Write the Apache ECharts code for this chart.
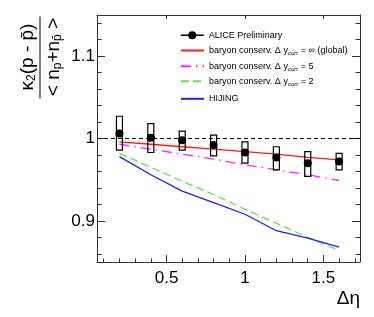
<!DOCTYPE html>
<html>
<head>
<meta charset="utf-8">
<script src="https://cdn.jsdelivr.net/npm/echarts@6/dist/echarts.min.js"></script>
<style>html,body{margin:0;padding:0;background:#fff}#c{width:374px;height:317px}</style>
</head>
<body>
<div id="c"></div>
<script>
const xVals = [0.2, 0.4, 0.6, 0.8, 1.0, 1.2, 1.4, 1.6];
const aliceY = [1.006, 1.001, 0.998, 0.992, 0.983, 0.977, 0.970, 0.972];
const sysLow = [0.986, 0.983, 0.986, 0.979, 0.970, 0.962, 0.954, 0.962];
const sysHigh = [1.027, 1.018, 1.009, 1.004, 0.996, 0.990, 0.984, 0.982];
const globalY = [0.996, 0.993, 0.990, 0.987, 0.984, 0.981, 0.977, 0.974];
const corr5Y = [0.993, 0.987, 0.981, 0.975, 0.968, 0.962, 0.956, 0.949];
const corr2Y = [0.982, 0.965, 0.948, 0.932, 0.914, 0.897, 0.880, 0.864];
const hijingY = [0.978, 0.956, 0.936, 0.922, 0.908, 0.888, 0.879, 0.868];
const xMajor = [0.5, 1, 1.5];
const xMinor = [0.1, 0.2, 0.3, 0.4, 0.6, 0.7, 0.8, 0.9, 1.1, 1.2, 1.3, 1.4, 1.6, 1.7];
const yMajor = [0.9, 1, 1.1];
const yMinor = [0.86, 0.88, 0.92, 0.94, 0.96, 0.98, 1.02, 1.04, 1.06, 1.08, 1.12, 1.14];
const xRange = [0.057, 1.733];
const yRange = [0.85, 1.15];
const refLevel = 1;
const seriesNames = ['ALICE Preliminary', 'global', 'corr5', 'corr2', 'HIJING'];
const legendLabels = [
  'ALICE Preliminary',
  'baryon conserv. \u0394 y{sub|corr} = \u221e (global)',
  'baryon conserv. \u0394 y{sub|corr} = 5',
  'baryon conserv. \u0394 y{sub|corr} = 2',
  'HIJING'
];

const FONT = 'Liberation Sans';
const AX = '#333';
const pairs = ys => xVals.map((x, i) => [x, ys[i]]);

function xAx(pos, ticks, len, showLine, labels) {
  return {
    type: 'value', position: pos, min: xRange[0], max: xRange[1],
    axisLine: { show: showLine, lineStyle: { color: AX, width: 1 } },
    axisTick: { show: true, inside: true, length: len, customValues: ticks, lineStyle: { color: AX } },
    axisLabel: labels ? { show: true, customValues: ticks, fontFamily: FONT, fontSize: 17, color: '#000', margin: 8 } : { show: false },
    splitLine: { show: false }
  };
}
function yAx(pos, ticks, len, showLine, labels) {
  return {
    type: 'value', position: pos, min: yRange[0], max: yRange[1],
    axisLine: { show: showLine, lineStyle: { color: AX, width: 1 } },
    axisTick: { show: true, inside: true, length: len, customValues: ticks, lineStyle: { color: AX } },
    axisLabel: labels ? { show: true, customValues: ticks, fontFamily: FONT, fontSize: 17, color: '#000', margin: 2 } : { show: false },
    splitLine: { show: false }
  };
}

const legendTops = [30.7, 46, 61.7, 76.7, 94.3];
const legends = seriesNames.map((n, i) => {
  const lg = {
    data: [n], left: 180, top: legendTops[i], orient: 'vertical',
    itemWidth: 23, itemHeight: 10, padding: 0,
    formatter: () => legendLabels[i],
    textStyle: {
      fontFamily: FONT, fontSize: 9, color: '#000',
      rich: { sub: { fontFamily: FONT, fontSize: 6, color: '#000', padding: [6, 0, 0, 0] } }
    }
  };
  if (i === 0) lg.lineStyle = { opacity: 1, color: '#000', width: 1.5 };
  else lg.itemStyle = { opacity: 0 };
  return lg;
});

const chart = echarts.init(document.getElementById('c'));
chart.setOption({
  animation: false,
  backgroundColor: '#fff',
  grid: { left: 97, right: 14, top: 15, bottom: 55 },
  xAxis: [
    xAx('bottom', xMajor, 7, true, true),
    xAx('bottom', xMinor, 3.5, false, false),
    xAx('top', xMajor, 4, true, false)
  ],
  yAxis: [
    yAx('left', yMajor, 8, true, true),
    yAx('left', yMinor, 4.5, false, false),
    yAx('right', yMajor, 8, true, false),
    yAx('right', yMinor, 4.5, false, false)
  ],
  legend: legends,
  graphic: [
    { type: 'text', x: 27.5, y: 57, rotation: Math.PI / 2,
      style: { text: '\u03ba{s|2}(p - p\u0304)', fontFamily: FONT, fontSize: 19, fill: '#000', align: 'center', verticalAlign: 'middle',
        rich: { s: { fontFamily: FONT, fontSize: 12, fill: '#000', padding: [8, 0, 0, 0] } } } },
    { type: 'line', shape: { x1: 40, y1: 16.5, x2: 40, y2: 98.5 }, style: { stroke: '#000', lineWidth: 1 } },
    { type: 'text', x: 54, y: 57, rotation: Math.PI / 2,
      style: { text: '< n{s|p}+n{s|p\u0304} >', fontFamily: FONT, fontSize: 19, fill: '#000', align: 'center', verticalAlign: 'middle',
        rich: { s: { fontFamily: FONT, fontSize: 12, fill: '#000', padding: [8, 0, 0, 0] } } } },
    { type: 'text', right: 14, top: 289,
      style: { text: '\u0394\u03b7', fontFamily: FONT, fontSize: 19, fill: '#000' } }
  ],
  series: [
    { name: 'global', type: 'line', data: pairs(globalY), showSymbol: false, symbol: 'none', z: 3,
      lineStyle: { color: '#ff1a1a', width: 1.3 }, itemStyle: { color: '#ff1a1a' },
      markLine: { silent: true, symbol: 'none', label: { show: false },
        lineStyle: { color: '#000', type: [4, 3], width: 1.2 }, data: [{ yAxis: refLevel }] } },
    { name: 'corr5', type: 'line', data: pairs(corr5Y), showSymbol: false, symbol: 'none', z: 3,
      lineStyle: { color: '#ff22ff', width: 1.3, type: [10, 5, 1.5, 5] }, itemStyle: { color: '#ff22ff' } },
    { name: 'corr2', type: 'line', data: pairs(corr2Y), showSymbol: false, symbol: 'none', z: 3,
      lineStyle: { color: '#66dd55', width: 1.3, type: [8, 4] }, itemStyle: { color: '#66dd55' } },
    { name: 'HIJING', type: 'line', data: pairs(hijingY), showSymbol: false, symbol: 'none', z: 3,
      lineStyle: { color: '#1f1fef', width: 1.3 }, itemStyle: { color: '#1f1fef' } },
    { name: 'sys', type: 'custom', z: 4,
      data: xVals.map((x, i) => [x, sysLow[i], sysHigh[i]]),
      renderItem: (params, api) => {
        const top = api.coord([api.value(0), api.value(2)]);
        const bot = api.coord([api.value(0), api.value(1)]);
        return { type: 'rect', shape: { x: top[0] - 3, y: top[1], width: 6, height: bot[1] - top[1] },
          style: { fill: 'none', stroke: '#000', lineWidth: 1.2 } };
      } },
    { name: 'ALICE Preliminary', type: 'line', data: pairs(aliceY), symbol: 'circle', symbolSize: 8, z: 5,
      lineStyle: { opacity: 0, color: '#000' }, itemStyle: { color: '#000' } }
  ]
});
</script>
</body>
</html>
